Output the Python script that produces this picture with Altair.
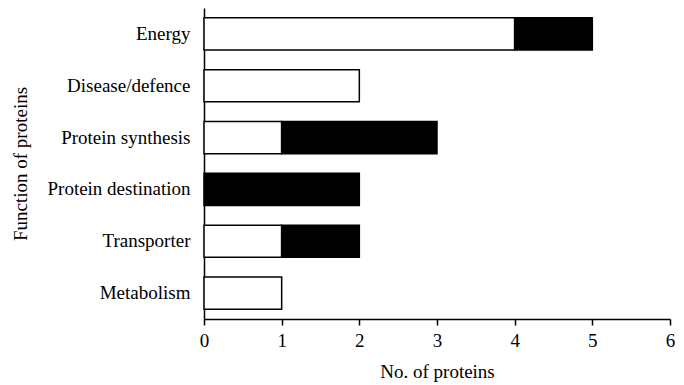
import altair as alt
import pandas as pd

categories = ["Energy", "Disease/defence", "Protein synthesis", "Protein destination", "Transporter", "Metabolism"]
white_vals = [4, 2, 1, 0, 1, 1]
black_vals = [1, 0, 2, 2, 1, 0]

rows = []
for c, w, b in zip(categories, white_vals, black_vals):
    rows.append({"Function": c, "group": "white", "value": w, "ord": 0})
    rows.append({"Function": c, "group": "black", "value": b, "ord": 1})
df = pd.DataFrame(rows)
df = df[df["value"] > 0]

FONT = "Liberation Serif"
FS = 19

chart = alt.Chart(df).mark_bar(stroke="black", strokeWidth=1.5).encode(
    y=alt.Y("Function:N", sort=categories,
            scale=alt.Scale(paddingInner=0.38, paddingOuter=0.19),
            axis=alt.Axis(title="Function of proteins", ticks=False, labelPadding=14,
                          titlePadding=16, domainColor="black", domainWidth=1.5,
                          labelColor="black", titleColor="black", labelFontSize=FS,
                          titleFontSize=FS, labelFont=FONT, titleFont=FONT,
                          titleFontWeight="normal", labelLimit=300)),
    x=alt.X("value:Q", stack="zero",
            scale=alt.Scale(domain=[0, 6], nice=False),
            axis=alt.Axis(title="No. of proteins", values=[0, 1, 2, 3, 4, 5, 6], grid=False,
                          tickSize=6, tickColor="black", tickWidth=1.5, domainColor="black",
                          domainWidth=1.5, labelPadding=6, titlePadding=12,
                          labelColor="black", titleColor="black", labelFontSize=FS,
                          titleFontSize=FS, labelFont=FONT, titleFont=FONT,
                          titleFontWeight="normal", labelFlush=False)),
    color=alt.Color("group:N", scale=alt.Scale(domain=["white", "black"], range=["white", "black"]), legend=None),
    order=alt.Order("ord:Q"),
).properties(
    width=466, height=311,
    autosize=alt.AutoSizeParams(type="none"),
    padding={"left": 196, "top": 0, "right": 6, "bottom": 66},
).configure_view(stroke=None)

chart.save("out.html", embed_options={"renderer": "svg", "actions": False})
